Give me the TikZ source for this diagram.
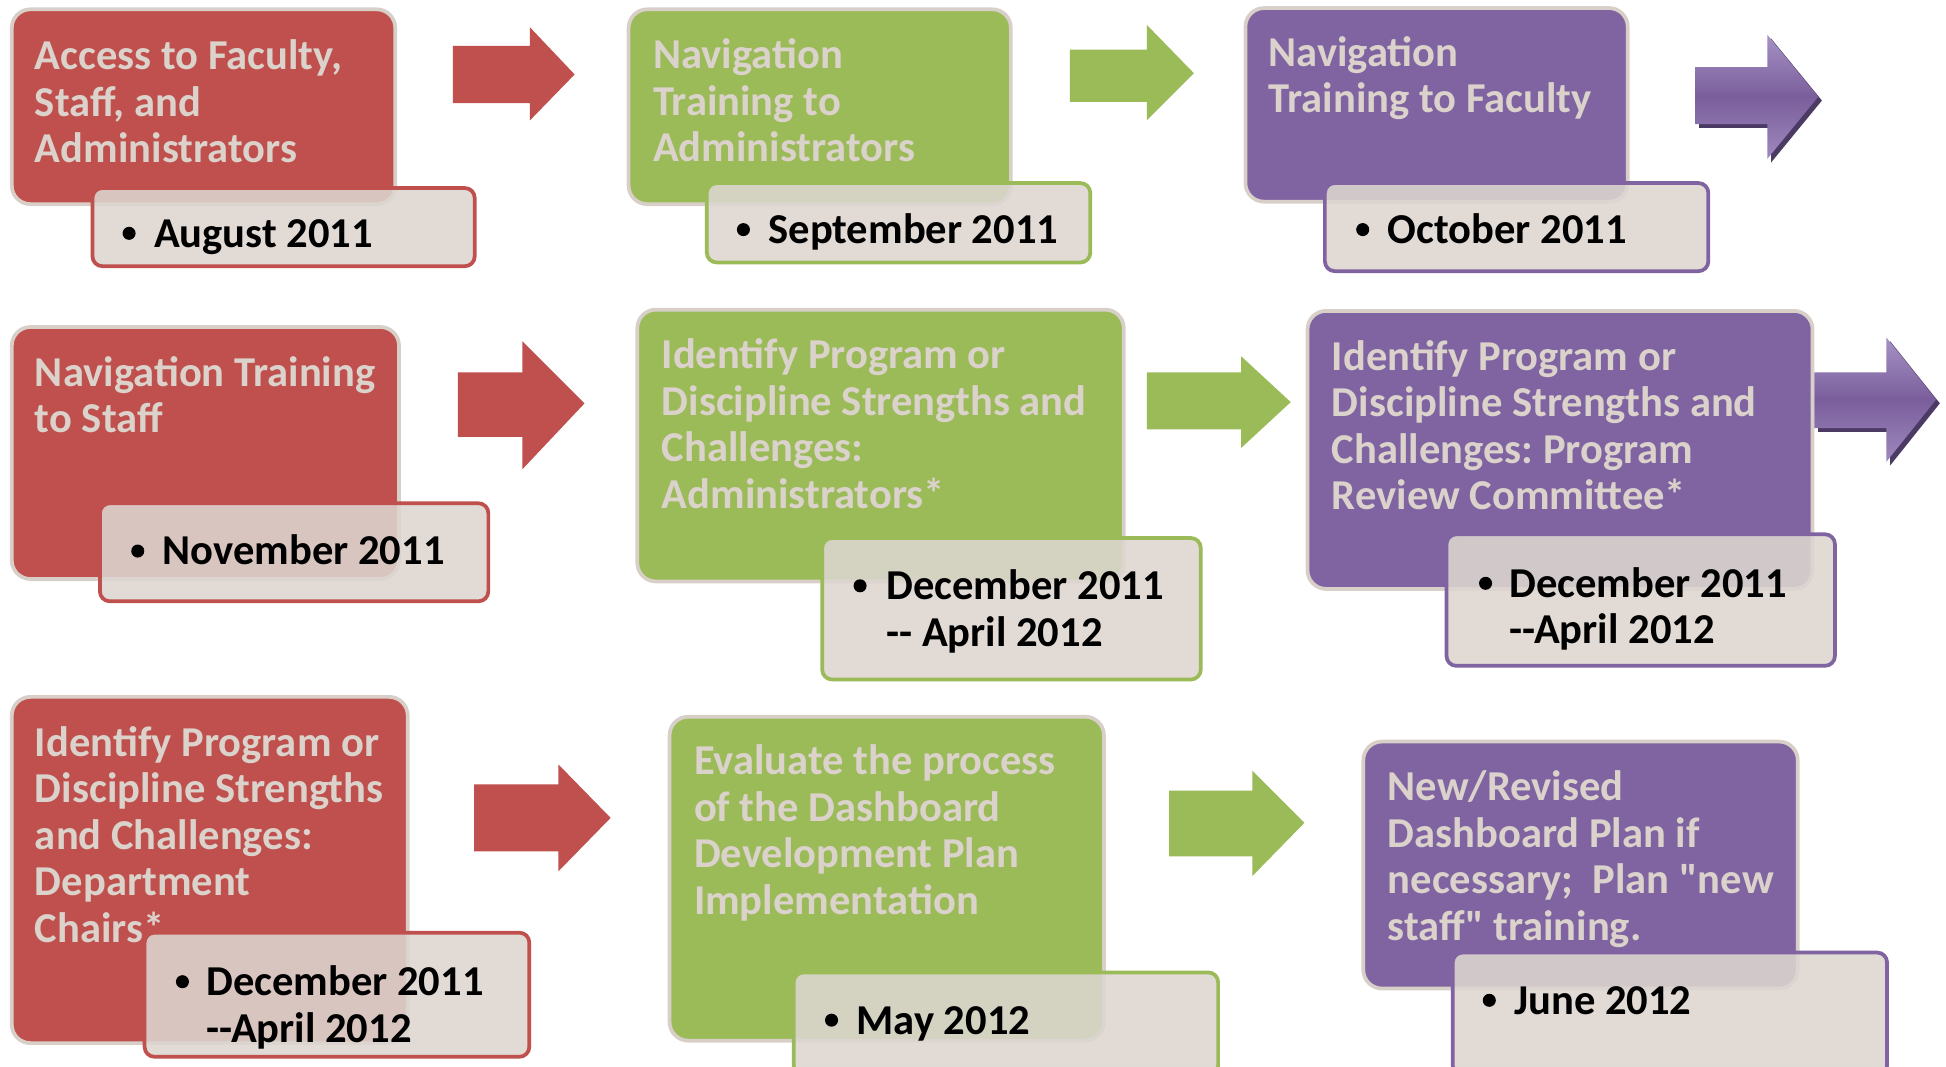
\documentclass[tikz,border=0pt]{standalone}
\usepackage{fontspec}
\setmainfont{Carlito}[Ligatures=TeXOff]
\usetikzlibrary{fit}
\definecolor{cred}{HTML}{C0504D}
\definecolor{cgreen}{HTML}{9BBB59}
\definecolor{cpurple}{HTML}{8064A2}
\definecolor{ctext}{HTML}{DAD2CB}
\definecolor{cborder}{HTML}{D8D0C8}
\definecolor{cdate}{HTML}{DDD6D0}
\definecolor{cpdark}{HTML}{4B3A63}
\definecolor{cplight}{HTML}{A592C4}
\definecolor{cpmid}{HTML}{7A5E9C}
\tikzset{
  mainbox/.style={draw=cborder, line width=3pt, rounded corners=15pt, inner sep=0pt},
  datebox/.style={line width=3pt, fill=cdate, fill opacity=0.88, rounded corners=8pt, inner sep=0pt},
  steptext/.style={anchor=north west, inner sep=0pt, align=left, text=ctext,
    font=\frenchspacing\bfseries\fontsize{34.3}{37.5}\selectfont},
  datetext/.style={anchor=north west, inner sep=0pt, align=left, text=black,
    font=\frenchspacing\bfseries\fontsize{34.3}{37.5}\selectfont},
  bulletdot/.style={circle, fill=black, inner sep=0pt, minimum size=10.5pt},
  flatarrow/.style={draw=none},
  purplearrow/.style={draw=none, top color=cplight, bottom color=cplight!80!cpurple, middle color=cpmid},
  arrowshadow/.style={draw=none, fill=cpdark},
}
% name, x1, y1, x2, y2, colour
\newcommand\stepbox[6]{%
  \coordinate (#1a) at (#2+1.5,#3+1.5);
  \coordinate (#1b) at (#4-1.5,#5-1.5);
  \node[mainbox, fill=#6, fit=(#1a)(#1b)] (#1) {};}
\newcommand\dtbox[6]{%
  \coordinate (#1a) at (#2+1.5,#3+1.5);
  \coordinate (#1b) at (#4-1.5,#5-1.5);
  \node[datebox, draw=#6, fit=(#1a)(#1b)] (#1) {};}
% style, x1, shaft top, shaft bottom, head x, head top, head bottom, tip x, tip y
\newcommand\blockarrow[9]{%
  \path[#1] (#2,#3) -- (#5,#3) -- (#5,#6) -- (#8,#9) -- (#5,#7) -- (#5,#4) -- (#2,#4) -- cycle;}
\begin{document}
\begin{tikzpicture}[x=1pt,y=-1pt]
\clip (0,0) rectangle (1568,859);
\fill[white] (0,0) rectangle (1568,859);

% ---------- Row 1 ----------
\stepbox{s1}{8}{6}{320}{166}{cred}
\node[steptext] (s1t) at (28,56-26.25) {\strut Access to Faculty,\\Staff, and\\Administrators};
\dtbox{d1}{73}{150}{384}{216}{cred}
\node[bulletdot] (d1b) at (104,188) {};
\node[datetext] (d1t) at (124,199-26.25) {\strut August 2011};
\blockarrow{flatarrow, fill=cred}{365}{37}{83}{427}{22}{97}{463}{60}

\stepbox{s2}{505}{6}{816}{166}{cgreen}
\node[steptext] (s2t) at (526,55-26.25) {\strut Navigation\\Training to\\Administrators};
\dtbox{d2}{568}{146}{880}{213}{cgreen}
\node[bulletdot] (d2b) at (599,185) {};
\node[datetext] (d2t) at (619,196-26.25) {\strut September 2011};
\blockarrow{flatarrow, fill=cgreen}{862}{40}{82}{924}{20}{97}{962}{59}

\stepbox{s3}{1002}{5}{1313}{164}{cpurple}
\node[steptext] (s3t) at (1022,53-26.25) {\strut Navigation\\Training to Faculty};
\dtbox{d3}{1066}{146}{1378}{220}{cpurple}
\node[bulletdot] (d3b) at (1098,185) {};
\node[datetext] (d3t) at (1118,196-26.25) {\strut October 2011};
\blockarrow{arrowshadow}{1369}{57}{103}{1427}{31}{131}{1468}{81}
\blockarrow{purplearrow}{1366}{54}{100}{1424}{28}{128}{1465}{78}

% ---------- Row 2 ----------
\stepbox{s4}{8}{262}{323}{468}{cred}
\node[steptext] (s4t) at (28,311-26.25) {\strut Navigation Training\\to Staff};
\dtbox{d4}{79}{404}{395}{486}{cred}
\node[bulletdot] (d4b) at (111,444) {};
\node[datetext] (d4t) at (131,455-26.25) {\strut November 2011};
\blockarrow{flatarrow, fill=cred}{369}{300}{352}{421}{275}{378}{471}{325}

\stepbox{s5}{512}{248}{907}{470}{cgreen}
\node[steptext] (s5t) at (533,297-26.25) {\strut Identify Program or\\Discipline Strengths and\\Challenges:\\Administrators*};
\dtbox{d5}{661}{432}{969}{549}{cgreen}
\node[bulletdot] (d5b) at (693,472) {};
\node[datetext] (d5t) at (714,483-26.25) {\strut December 2011\\-- April 2012};
\blockarrow{flatarrow, fill=cgreen}{924}{300}{346}{1000}{287}{361}{1040}{324}

\stepbox{s6}{1052}{249}{1462}{476}{cpurple}
\node[steptext] (s6t) at (1073,298-26.25) {\strut Identify Program or\\Discipline Strengths and\\Challenges: Program\\Review Committee*};
\dtbox{d6}{1164}{429}{1480}{538}{cpurple}
\node[bulletdot] (d6b) at (1197,470) {};
\node[datetext] (d6t) at (1216,481-26.25) {\strut December 2011\\--April 2012};
\blockarrow{arrowshadow}{1465}{303}{348}{1523}{275}{375}{1563}{325}
\blockarrow{purplearrow}{1462}{300}{345}{1520}{272}{372}{1560}{322}

% ---------- Row 3 ----------
\stepbox{s7}{8}{560}{330}{842}{cred}
\node[steptext] (s7t) at (28,609-26.25) {\strut Identify Program or\\Discipline Strengths\\and Challenges:\\Department\\Chairs*};
\dtbox{d7}{115}{750}{428}{853}{cred}
\node[bulletdot] (d7b) at (147,791) {};
\node[datetext] (d7t) at (166,802-26.25) {\strut December 2011\\--April 2012};
\blockarrow{flatarrow, fill=cred}{382}{632}{686}{450}{616}{702}{492}{659}

\stepbox{s8}{538}{576}{891}{840}{cgreen}
\node[steptext] (s8t) at (559,624-26.25) {\strut Evaluate the process\\of the Dashboard\\Development Plan\\Implementation};
\dtbox{d8}{638}{782}{983}{868}{cgreen}
\node[bulletdot] (d8b) at (670,822) {};
\node[datetext] (d8t) at (690,833-26.25) {\strut May 2012};
\blockarrow{flatarrow, fill=cgreen}{942}{637}{690}{1009}{621}{706}{1051}{663}

\stepbox{s9}{1097}{596}{1450}{798}{cpurple}
\node[steptext] (s9t) at (1118,645-26.25) {\strut New/Revised\\Dashboard Plan if\\necessary;\ \ Plan "new\\staff" training.};
\dtbox{d9}{1169}{766}{1522}{868}{cpurple}
\node[bulletdot] (d9b) at (1200,806) {};
\node[datetext] (d9t) at (1220,817-26.25) {\strut June 2012};
\end{tikzpicture}
\end{document}
